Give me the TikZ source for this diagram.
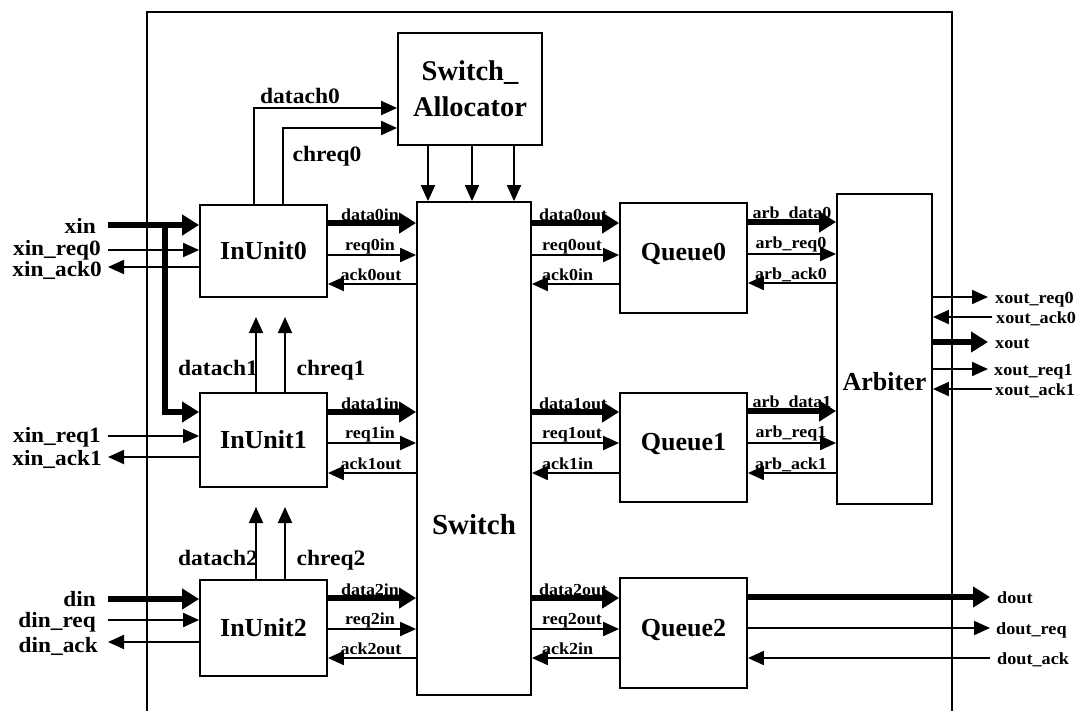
\documentclass[tikz,border=0pt]{standalone}
\usepackage{fontspec}
\setmainfont{Liberation Serif}
\newfontfamily\widefont{Liberation Serif}[FakeStretch=1.07]
\usetikzlibrary{arrows.meta}
\begin{document}
\begin{tikzpicture}[x=1pt,y=-1pt,
  box/.style={draw,line width=1.8pt,fill=white,inner sep=0pt,font=\bfseries\fontsize{26}{30}\selectfont},
  sig/.style={line width=1.9pt,-{Triangle[length=16pt,width=14pt]}},
  bus/.style={line width=6pt,-{Triangle[length=17pt,width=20pt]}},
  plain/.style={line width=6pt},
  frame/.style={line width=1.6pt},
  sl/.style={font=\widefont\bfseries\fontsize{16.8}{17}\selectfont,inner sep=0pt,anchor=base},
  il/.style={font=\widefont\bfseries\fontsize{21.8}{22}\selectfont,inner sep=0pt,anchor=base east},
  ol/.style={font=\widefont\bfseries\fontsize{17}{18}\selectfont,inner sep=0pt,anchor=base west},
  cl/.style={font=\widefont\bfseries\fontsize{22}{23}\selectfont,inner sep=0pt,anchor=base}]
\useasboundingbox (0,0) rectangle (1078,710);
\begin{scope}
\clip (0,0) rectangle (1078,710);
% outer frame
\draw[frame] (147,720) -- (147,12) -- (952,12) -- (952,720);
\end{scope}

% boxes
\node[box,minimum width=144pt,minimum height=112pt,align=center,font=\bfseries\fontsize{28.5}{36}\selectfont] (alloc) at (470,89) {Switch\_\\Allocator};
\node[box,minimum width=127pt,minimum height=92pt] (iu0) at (263.5,251) {InUnit0};
\node[box,minimum width=127pt,minimum height=94pt] (iu1) at (263.5,440) {InUnit1};
\node[box,minimum width=127pt,minimum height=96pt] (iu2) at (263.5,628) {InUnit2};
\node[box,minimum width=114pt,minimum height=493pt,label={[font=\bfseries\fontsize{29}{30}\selectfont,yshift=-76pt]center:Switch}] (sw) at (474,448.5) {};
\node[box,minimum width=127pt,minimum height=110pt,text depth=12pt] (q0) at (683.5,258) {Queue0};
\node[box,minimum width=127pt,minimum height=109pt,text depth=12pt] (q1) at (683.5,447.5) {Queue1};
\node[box,minimum width=127pt,minimum height=110pt,text depth=10pt] (q2) at (683.5,633) {Queue2};
\node[box,minimum width=95pt,minimum height=310pt,label={[font=\bfseries\fontsize{26}{30}\selectfont,yshift=-33pt]center:Arbiter}] (arb) at (884.5,349) {};

% free end points, left
\coordinate (xin) at (108,225);
\coordinate (xreq0) at (108,250);
\coordinate (xack0) at (108,267);
\coordinate (xreq1) at (108,436);
\coordinate (xack1) at (108,457);
\coordinate (din) at (108,599);
\coordinate (dreq) at (108,620);
\coordinate (dack) at (108,642);
\coordinate (j) at (165,225);

\draw[bus] (xin) -- (iu0.west |- xin);
\draw[plain] (j) -- (165,412);
\draw[bus] (165,409) |- (iu1.west |- 0,412);
\draw[sig] (xreq0) -- (iu0.west |- xreq0);
\draw[sig] (iu0.west |- xack0) -- (xack0);
\draw[sig] (xreq1) -- (iu1.west |- xreq1);
\draw[sig] (iu1.west |- xack1) -- (xack1);
\draw[bus] (din) -- (iu2.west |- din);
\draw[sig] (dreq) -- (iu2.west |- dreq);
\draw[sig] (iu2.west |- dack) -- (dack);

\node[il] (lxin) at (96,233) {xin};
\node[il] (lxreq0) at (101,255) {xin\_req0};
\node[il] (lxack0) at (102,276) {xin\_ack0};
\node[il] (lxreq1) at (101,442) {xin\_req1};
\node[il] (lxack1) at (102,465) {xin\_ack1};
\node[il] (ldin) at (96,606) {din};
\node[il] (ldreq) at (96,627) {din\_req};
\node[il] (ldack) at (98,652) {din\_ack};

% datach / chreq
\coordinate (dc0) at (254,108);
\coordinate (cr0) at (283,128);
\draw[sig] (iu0.north -| dc0) |- (alloc.west |- dc0);
\draw[sig] (iu0.north -| cr0) |- (alloc.west |- cr0);
\node[cl] (ldc0) at (300,103) {datach0};
\node[cl] (lcr0) at (327,161) {chreq0};

\draw[sig] (iu1.north -| 256,0) -- (256,317);
\draw[sig] (iu1.north -| 285,0) -- (285,317);
\node[cl] (ldc1) at (218,375) {datach1};
\node[cl] (lcr1) at (331,375) {chreq1};
\draw[sig] (iu2.north -| 256,0) -- (256,507);
\draw[sig] (iu2.north -| 285,0) -- (285,507);
\node[cl] (ldc2) at (218,565) {datach2};
\node[cl] (lcr2) at (331,565) {chreq2};

% allocator to switch
\draw[sig] (alloc.south -| 428,0) -- (sw.north -| 428,0);
\draw[sig] (alloc.south -| 472,0) -- (sw.north -| 472,0);
\draw[sig] (alloc.south -| 514,0) -- (sw.north -| 514,0);

% rows
\foreach \r/\a/\b/\c in {0/223/255/284,1/412/443/473,2/598/629/658}{
  \draw[bus] (iu\r.east |- 0,\a) -- (sw.west |- 0,\a);
  \draw[sig] (iu\r.east |- 0,\b) -- (sw.west |- 0,\b);
  \draw[sig] (sw.west |- 0,\c) -- (iu\r.east |- 0,\c);
  \node[sl] at (370,\a-3) {data\r in};
  \node[sl] at (370,\b-5) {req\r in};
  \node[sl] at (371,\c-4) {ack\r out};
  \draw[bus] (sw.east |- 0,\a) -- (q\r.west |- 0,\a);
  \draw[sig] (sw.east |- 0,\b) -- (q\r.west |- 0,\b);
  \draw[sig] (q\r.west |- 0,\c) -- (sw.east |- 0,\c);
  \node[sl,anchor=base west] at (539,\a-3) {data\r out};
  \node[sl,anchor=base west] at (542,\b-5) {req\r out};
  \node[sl,anchor=base west] at (542,\c-4) {ack\r in};
}
\foreach \r/\a/\b/\c in {0/222/254/283,1/411/443/473}{
  \draw[bus] (q\r.east |- 0,\a) -- (arb.west |- 0,\a);
  \draw[sig] (q\r.east |- 0,\b) -- (arb.west |- 0,\b);
  \draw[sig] (arb.west |- 0,\c) -- (q\r.east |- 0,\c);
  \node[sl] at (792,\a-4) {arb\_data\r};
  \node[sl] at (791,\b-6) {arb\_req\r};
  \node[sl] at (791,\c-4) {arb\_ack\r};
}

% arbiter outputs
\coordinate (oreq0) at (988,297);
\coordinate (oack0) at (992,317);
\coordinate (oxout) at (988,342);
\coordinate (oreq1) at (988,369);
\coordinate (oack1) at (992,389);
\draw[sig] (arb.east |- oreq0) -- (oreq0);
\draw[sig] (oack0) -- (arb.east |- oack0);
\draw[bus] (arb.east |- oxout) -- (oxout);
\draw[sig] (arb.east |- oreq1) -- (oreq1);
\draw[sig] (oack1) -- (arb.east |- oack1);
\node[ol] at (995,303) {xout\_req0};
\node[ol] at (996,323) {xout\_ack0};
\node[ol] at (995,348) {xout};
\node[ol] at (994,375) {xout\_req1};
\node[ol] at (995,395) {xout\_ack1};

% queue2 outputs
\coordinate (odout) at (990,597);
\coordinate (odreq) at (990,628);
\coordinate (odack) at (990,658);
\draw[bus] (q2.east |- odout) -- (odout);
\draw[sig] (q2.east |- odreq) -- (odreq);
\draw[sig] (odack) -- (q2.east |- odack);
\node[ol] at (997,603) {dout};
\node[ol] at (996,634) {dout\_req};
\node[ol] at (997,664) {dout\_ack};
\end{tikzpicture}
\end{document}
